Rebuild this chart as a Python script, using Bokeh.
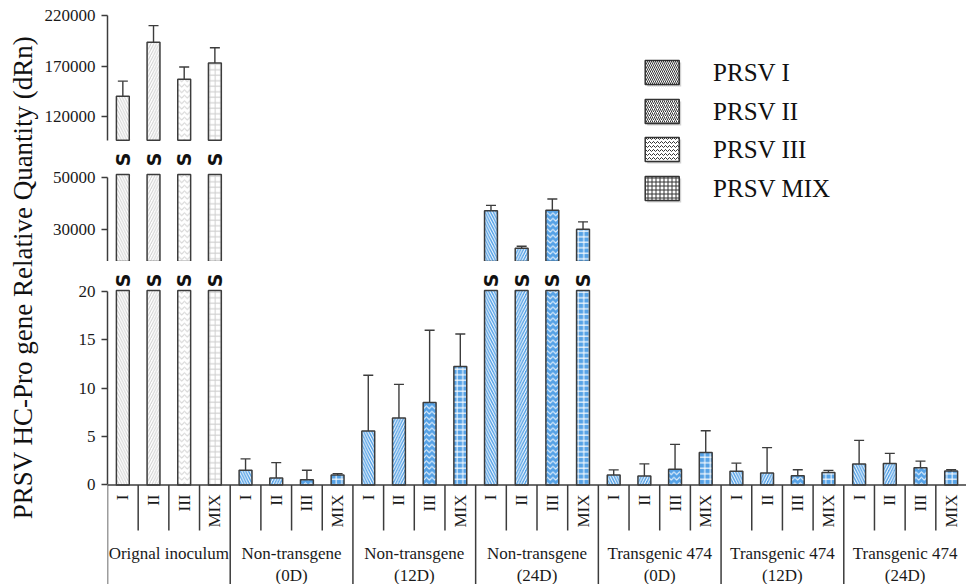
import math
from bokeh.plotting import figure
from bokeh.models import (Range1d, FixedTicker, ColumnDataSource, Whisker, TeeHead,
                          Span, NumeralTickFormatter)
from bokeh.layouts import row, column
from bokeh.embed import file_html
from bokeh.resources import INLINE
from bokeh.core.properties import value

# ---------------- data ----------------
groups = ["Orignal inoculum", "Non-transgene\n(0D)", "Non-transgene\n(12D)",
          "Non-transgene\n(24D)", "Transgenic 474\n(0D)", "Transgenic 474\n(12D)",
          "Transgenic 474\n(24D)"]
strains = ["I", "II", "III", "MIX"]
legend_labels = ["PRSV I", "PRSV II", "PRSV III", "PRSV MIX"]
y_title = "PRSV HC-Pro gene Relative Quantity (dRn)"

orig_val = [140000, 193500, 157000, 173000]
orig_hi = [15000, 16500, 12000, 15000]
orig_lo = [15000, 16500, 15500, 16000]
nt0_val = [1.52, 0.72, 0.52, 1.03]
nt0_hi = [1.17, 1.58, 1.00, 0.14]
nt0_lo = [0.66, 0.42, 0.35, 0.10]
nt12_val = [5.58, 6.93, 8.51, 12.24]
nt12_hi = [5.76, 3.47, 7.49, 3.36]
nt12_lo = [2.89, 2.43, 5.13, 2.18]
nt24_val = [37100, 22600, 37300, 30000]
nt24_hi = [2100, 800, 4400, 2850]
nt24_lo = [900, 500, 2050, 2800]
t0_val = [1.03, 0.93, 1.63, 3.36]
t0_hi = [0.52, 1.24, 2.56, 2.24]
t0_lo = [0.29, 0.60, 1.16, 2.10]
t12_val = [1.40, 1.22, 0.95, 1.29]
t12_hi = [0.85, 2.63, 0.62, 0.21]
t12_lo = [0.55, 0.99, 0.48, 0.20]
t24_val = [2.15, 2.22, 1.78, 1.43]
t24_hi = [2.45, 1.04, 0.68, 0.14]
t24_lo = [1.24, 0.75, 0.52, 0.10]

top_ticks = [120000, 170000, 220000]
mid_ticks = [30000, 50000]
low_ticks = [0, 5, 10, 15, 20]

# ---------------- styling / layout ----------------
FONT = "Liberation Serif"
AX = "#3c3c3c"
BLUE = "#56a2e6"
LIGHT_HATCH = "#cfcfcf"
PAT = {"I": "left_diagonal_line", "II": "right_diagonal_line",
       "III": "horizontal_wave", "MIX": "cross"}

LEFT_W = 41
MAIN_W = 925
BORDER_L = 64
TOTAL_H = 584

vals = orig_val + nt0_val + nt12_val + nt24_val + t0_val + t12_val + t24_val
his = orig_hi + nt0_hi + nt12_hi + nt24_hi + t0_hi + t12_hi + t24_hi
los = orig_lo + nt0_lo + nt12_lo + nt24_lo + t0_lo + t12_lo + t24_lo
n = len(vals)
xs = [i + 0.5 for i in range(n)]
strain_of = [strains[i % len(strains)] for i in range(n)]
grp_of = [i // len(strains) for i in range(n)]

xr = Range1d(0, n)
FRAME_LEFT_PX = LEFT_W + BORDER_L
FRAME_W = MAIN_W - BORDER_L


def x_at(px):
    return (px - FRAME_LEFT_PX) * n / FRAME_W


# page-pixel layout of the three stacked panels
A_canvas, A_frame_top, A_frame_bot = 0, 15, 167
B_canvas, B_frame_top, B_frame_bot = 167, 167, 261
C_canvas, C_frame_top, C_frame_bot = 261, 261, TOTAL_H

# scales: (reference value, its pixel row, pixels per unit)
A_ref, A_ref_px, A_ppu = 220000, 15, 101.0 / 100000
B_ref, B_ref_px, B_ppu = 50000, 177, 51.7 / 20000
C_ref, C_ref_px, C_ppu = 20, 291, 193.4 / 20


def val_at(px, ref, ref_px, ppu):
    return ref - (px - ref_px) / ppu


def a_y(px):
    return val_at(px, A_ref, A_ref_px, A_ppu)


def b_y(px):
    return val_at(px, B_ref, B_ref_px, B_ppu)


def c_y(px):
    return val_at(px, C_ref, C_ref_px, C_ppu)


A_end, A_start = a_y(A_frame_top), a_y(A_frame_bot)
A_floor, A_top, A_vis = 96500, 220000, A_end
B_end, B_start = b_y(B_frame_top), b_y(B_frame_bot)
B_floor, B_top, B_vis = 17500, 50000, b_y(174)
C_end, C_start = c_y(C_frame_top), c_y(C_frame_bot)
C_floor, C_top, C_vis = 0, 20, c_y(290)


def make_panel(canvas_top, frame_top, frame_bot, ystart, yend, floor, atop, vis, ticks):
    p = figure(width=MAIN_W, height=frame_bot - canvas_top, x_range=xr,
               y_range=Range1d(ystart, yend),
               x_axis_location=None, y_axis_location="left", toolbar_location=None,
               output_backend="svg", min_border_left=BORDER_L, min_border_right=0,
               min_border_top=frame_top - canvas_top, min_border_bottom=0,
               background_fill_color="white", border_fill_color="white")
    p.outline_line_color = None
    p.grid.visible = False
    ax = p.yaxis[0]
    ax.ticker = FixedTicker(ticks=ticks)
    ax.formatter = NumeralTickFormatter(format="0")
    ax.bounds = (floor, atop)
    ax.axis_line_color = AX
    ax.axis_line_width = 1.5
    ax.major_tick_line_color = AX
    ax.major_tick_line_width = 1.5
    ax.major_tick_out = 6
    ax.major_tick_in = 0
    ax.minor_tick_line_color = None
    ax.major_label_standoff = 6
    ax.major_label_text_font = FONT
    ax.major_label_text_font_size = "17px"
    ax.major_label_text_color = "#1a1a1a"

    idx = [i for i in range(n) if vals[i] > floor]
    src = ColumnDataSource(dict(
        x=[xs[i] for i in idx],
        top=[min(vals[i], vis) for i in idx],
        bottom=[floor] * len(idx),
        fill=["white" if grp_of[i] == 0 else BLUE for i in idx],
        hcol=[LIGHT_HATCH if grp_of[i] == 0 else "white" for i in idx],
        pat=[PAT[strain_of[i]] for i in idx],
    ))
    p.vbar(x="x", top="top", bottom="bottom", width=0.42, source=src,
           fill_color="fill", hatch_pattern="pat", hatch_color="hcol",
           hatch_scale=5.5, hatch_weight=1.0, line_color=AX, line_width=1.5)

    eidx = [i for i in range(n) if floor < vals[i] <= vis]
    esrc = ColumnDataSource(dict(
        x=[xs[i] for i in eidx],
        upper=[vals[i] + his[i] for i in eidx],
        lower=[vals[i] - los[i] for i in eidx],
    ))
    w = Whisker(base="x", upper="upper", lower="lower", source=esrc, dimension="height",
                line_color=AX, line_width=1.4,
                upper_head=TeeHead(size=10, line_color=AX, line_width=1.4),
                lower_head=TeeHead(size=10, line_color=AX, line_width=1.4))
    p.add_layout(w)
    return p


pA = make_panel(A_canvas, A_frame_top, A_frame_bot, A_start, A_end, A_floor, A_top, A_vis, top_ticks)
pB = make_panel(B_canvas, B_frame_top, B_frame_bot, B_start, B_end, B_floor, B_top, B_vis, mid_ticks)
pC = make_panel(C_canvas, C_frame_top, C_frame_bot, C_start, C_end, C_floor, C_top, C_vis, low_ticks)

# break marks for bars running through a break
for p, limit, sy in ((pA, B_vis, a_y(159)), (pC, C_vis, c_y(280))):
    sx = [xs[i] for i in range(n) if vals[i] > limit]
    p.text(x=sx, y=[sy] * len(sx), text=["S"] * len(sx), angle=math.pi / 2,
           text_align="center", text_baseline="middle",
           text_font=value("DejaVu Sans"), text_font_style="bold",
           text_font_size="19px", text_color="#111111")

# legend: hatched key boxes + labels (rows split across the two upper panels)
LEG_ROWS = [72, 111, 149, 188]
for s, lab, rpx in zip(strains, legend_labels, LEG_ROWS):
    if rpx < A_frame_bot - 14:
        p, fy = pA, a_y
    else:
        p, fy = pB, b_y
    p.rect(x=[x_at(663)], y=[fy(rpx + 2)], width=34, height=24, width_units="screen",
           height_units="screen", fill_color="#9a9a9a", fill_alpha=0.45, line_color=None)
    p.rect(x=[x_at(661)], y=[fy(rpx)], width=34, height=24, width_units="screen",
           height_units="screen", fill_color="white", hatch_pattern=PAT[s],
           hatch_color="#333333", hatch_scale=4, hatch_weight=1.0,
           line_color="#333333", line_width=1.5)
    p.text(x=[x_at(712)], y=[fy(rpx)], text=[lab], text_align="left",
           text_baseline="middle", text_font=value(FONT), text_font_size="25px",
           text_color="#111111")

# category axis area below the bottom panel
base = Span(location=0, dimension="width", line_color=AX, line_width=1.5)
pC.add_layout(base)
nsub = len(strains)
sub_sep = [k for k in range(1, n) if k % nsub != 0]
grp_sep = [k for k in range(0, n) if k % nsub == 0]
pC.segment(x0=sub_sep, y0=[0] * len(sub_sep), x1=sub_sep, y1=[c_y(530)] * len(sub_sep),
           line_color=AX, line_width=1.5)
pC.segment(x0=grp_sep, y0=[0] * len(grp_sep), x1=grp_sep, y1=[C_start] * len(grp_sep),
           line_color=AX, line_width=1.5)
pC.text(x=xs, y=[c_y(494)] * n, text=strain_of, angle=math.pi / 2,
        text_align="right", text_baseline="middle", text_font=value(FONT),
        text_font_size="17px", text_color="#1a1a1a")
gx = [g * nsub + nsub / 2 for g in range(len(groups))]
pC.text(x=gx, y=[c_y(543)] * len(groups), text=groups, text_align="center",
        text_baseline="top", text_font=value(FONT), text_font_size="17px",
        text_line_height=1.18, text_color="#1a1a1a")

# y-axis title column
pt = figure(width=LEFT_W, height=TOTAL_H, x_range=Range1d(0, 1), y_range=Range1d(0, 1),
            x_axis_location=None, y_axis_location=None, toolbar_location=None,
            output_backend="svg", min_border=0)
pt.outline_line_color = None
pt.grid.visible = False
pt.text(x=[22.5 / LEFT_W], y=[(TOTAL_H - 277) / TOTAL_H], text=[y_title], angle=math.pi / 2,
        text_align="center", text_baseline="middle", text_font=value(FONT),
        text_font_size="27px", text_color="#111111")

layout = row(pt, column(pA, pB, pC, spacing=0), spacing=0)
open("out.html", "w").write(file_html(layout, INLINE))
